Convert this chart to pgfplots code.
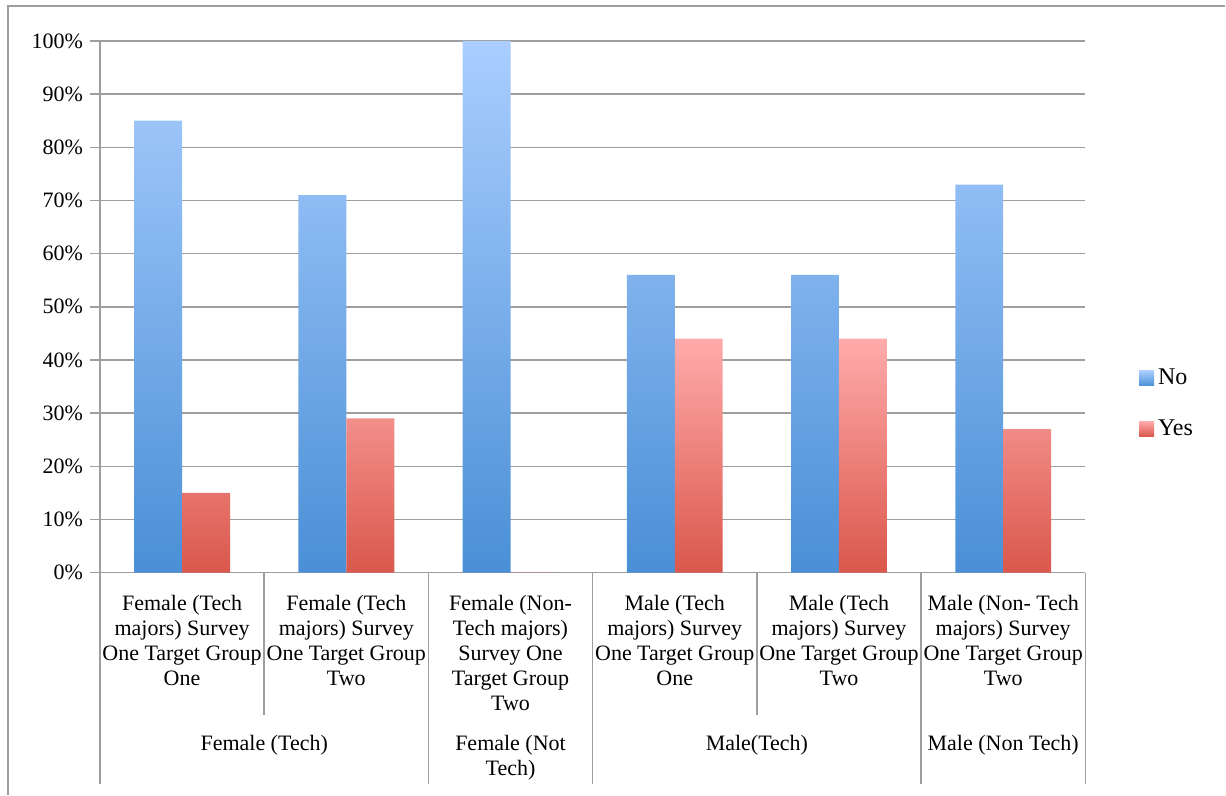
\documentclass[border=0pt]{standalone}
\usepackage{pgfplots}
\pgfplotsset{compat=1.18}
\usepackage{fontspec}
\setmainfont{Liberation Serif}

\definecolor{notop}{HTML}{AACEFF}
\definecolor{nobot}{HTML}{4A8FD6}
\definecolor{yestop}{HTML}{FFABAB}
\definecolor{yesbot}{HTML}{DA574B}
\definecolor{gridc}{HTML}{9E9E9E}

\newcommand{\lblfont}{\fontsize{11}{12.5}\selectfont}

\begin{document}
\begin{tikzpicture}
\begin{axis}[
    at={(0,0)}, anchor=south west,
    scale only axis, width=493pt, height=266pt,
    ybar=0pt, bar width=24pt,
    xmin=-0.5, xmax=5.5, ymin=0, ymax=100,
    xtick={0,...,5},
    xticklabels={
      {Female (Tech\\majors) Survey\\One Target Group\\One},
      {Female (Tech\\majors) Survey\\One Target Group\\Two},
      {Female (Non-\\Tech majors)\\Survey One\\Target Group\\Two},
      {Male (Tech\\majors) Survey\\One Target Group\\One},
      {Male (Tech\\majors) Survey\\One Target Group\\Two},
      {Male (Non- Tech\\majors) Survey\\One Target Group\\Two}},
    x tick label style={align=center, font=\lblfont, yshift=-3pt},
    xtick style={draw=none},
    ytick={0,10,...,100},
    yticklabel={\pgfmathprintnumber{\tick}\%},
    /pgf/number format/assume math mode=true,
    y tick label style={font=\lblfont},
    ymajorgrids,
    grid style={gridc, line width=0.75pt},
    axis x line*=bottom, axis y line*=left,
    axis line style={gridc, line width=0.75pt},
    ytick style={gridc, line width=0.75pt},
    tick align=outside, major tick length=5pt,
    clip=false,
    legend style={at={(1.048,0.318)}, anchor=west, draw=none, fill=none,
      font=\fontsize{12}{14}\selectfont, row sep=12pt,
      /tikz/every even column/.append style={column sep=2pt}},
    legend cell align=left,
    legend image code/.code={\fill[#1] (0pt,-3.75pt) rectangle (7.5pt,3.75pt);},
  ]
  \addplot[draw=none, top color=notop, bottom color=nobot] coordinates {
    (0,85) (1,71) (2,100) (3,56) (4,56) (5,73)
  };
  \addplot[draw=none, top color=yestop, bottom color=yesbot] coordinates {
    (0,15) (1,29) (2,0) (3,44) (4,44) (5,27)
  };
  \legend{No, Yes}

  % category separators below the axis
  \pgfplotsinvokeforeach{-0.5,1.5,2.5,4.5,5.5}{
    \draw[gridc, line width=0.75pt] (axis cs:#1,0) -- ([yshift=-105.5pt]axis cs:#1,0);
  }
  \pgfplotsinvokeforeach{0.5,3.5}{
    \draw[gridc, line width=0.75pt] (axis cs:#1,0) -- ([yshift=-71pt]axis cs:#1,0);
  }

  % group labels
  \node[anchor=north, align=center, font=\lblfont, yshift=-78pt] at (axis cs:0.5,0) {Female (Tech)};
  \node[anchor=north, align=center, font=\lblfont, yshift=-78pt] at (axis cs:2,0) {Female (Not\\Tech)};
  \node[anchor=north, align=center, font=\lblfont, yshift=-78pt] at (axis cs:3.5,0) {Male(Tech)};
  \node[anchor=north, align=center, font=\lblfont, yshift=-78pt] at (axis cs:5,0) {Male (Non Tech)};
\end{axis}
\pgfresetboundingbox
\draw[gridc, line width=0.75pt] (-46pt,-111pt) -- (-46pt,283.5pt) -- (563pt,283.5pt);
\path[use as bounding box] (-50pt,-111pt) rectangle (563pt,286.5pt);
\end{tikzpicture}
\end{document}
